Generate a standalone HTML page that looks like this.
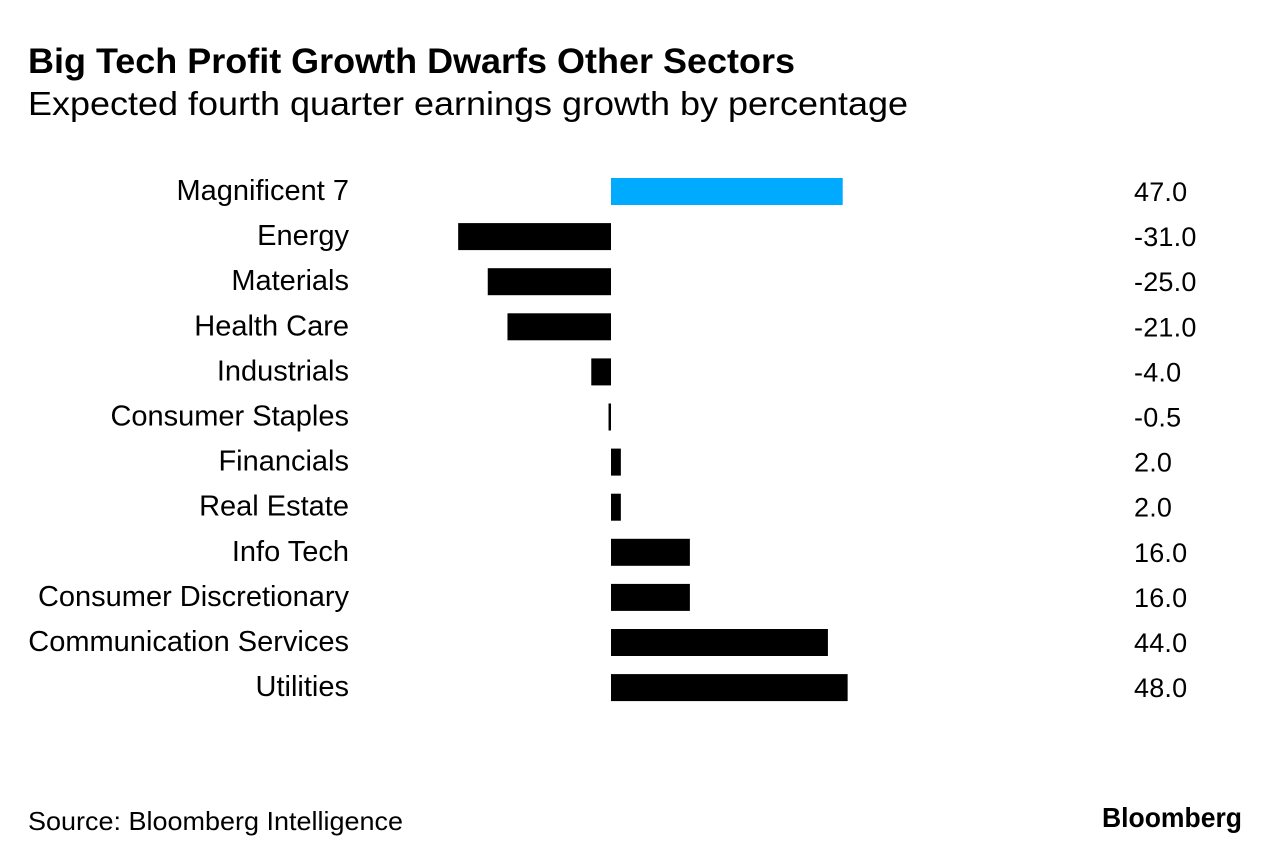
<!DOCTYPE html>
<html lang="en">
<head>
<meta charset="utf-8">
<title>Big Tech Profit Growth Dwarfs Other Sectors</title>
<style>
html,body{margin:0;padding:0;background:#fff;width:1281px;height:862px;overflow:hidden}
svg{display:block}
text{font-family:"Liberation Sans",sans-serif;fill:#000}
</style>
</head>
<body>
<svg id="chart" width="1281" height="862" viewBox="0 0 1281 862" xmlns="http://www.w3.org/2000/svg">
  <text x="28" y="73" font-size="35" font-weight="700" textLength="767" lengthAdjust="spacingAndGlyphs">Big Tech Profit Growth Dwarfs Other Sectors</text>
  <text x="28" y="115" font-size="33" textLength="880" lengthAdjust="spacingAndGlyphs">Expected fourth quarter earnings growth by percentage</text>
  <g id="rows"></g>
  <text x="28" y="830" font-size="26" textLength="375" lengthAdjust="spacingAndGlyphs">Source: Bloomberg Intelligence</text>
  <text x="1102" y="827" font-size="28" font-weight="700" textLength="140" lengthAdjust="spacingAndGlyphs">Bloomberg</text>
</svg>
<script>
const categories = ["Magnificent 7","Energy","Materials","Health Care","Industrials","Consumer Staples","Financials","Real Estate","Info Tech","Consumer Discretionary","Communication Services","Utilities"];
const seriesValues = [47,-31,-25,-21,-4,-0.5,2,2,16,16,44,48];
const valueLabels = ["47.0","-31.0","-25.0","-21.0","-4.0","-0.5","2.0","2.0","16.0","16.0","44.0","48.0"];
const highlightCategory = "Magnificent 7";

function xScale(v){ return 611 + v * 4.93; }
function yScale(i){ return 178 + i * 45.1; }
const barHeight = 27;
const svgNS = "http://www.w3.org/2000/svg";
const rows = document.getElementById("rows");

categories.forEach(function(cat, i){
  const y = yScale(i);
  const label = document.createElementNS(svgNS, "text");
  
  
  label.setAttribute("x", 349);
  label.setAttribute("y", y + 22);
  label.setAttribute("text-anchor", "end");
  label.setAttribute("font-size", "29");
  label.textContent = cat;
  rows.appendChild(label);

  const v = seriesValues[i];
  const x0 = xScale(Math.min(v, 0));
  const x1 = xScale(Math.max(v, 0));
  const bar = document.createElementNS(svgNS, "rect");
  
  
  bar.setAttribute("x", x0);
  bar.setAttribute("y", y);
  bar.setAttribute("width", x1 - x0);
  bar.setAttribute("height", barHeight);
  bar.setAttribute("fill", cat === highlightCategory ? "#00aaff" : "#000000");
  rows.appendChild(bar);

  const val = document.createElementNS(svgNS, "text");
  
  
  val.setAttribute("x", 1134);
  val.setAttribute("y", y + 23);
  val.setAttribute("font-size", "27");
  val.setAttribute("letter-spacing", "0.2");
  val.textContent = valueLabels[i];
  rows.appendChild(val);
});
</script>
</body>
</html>
